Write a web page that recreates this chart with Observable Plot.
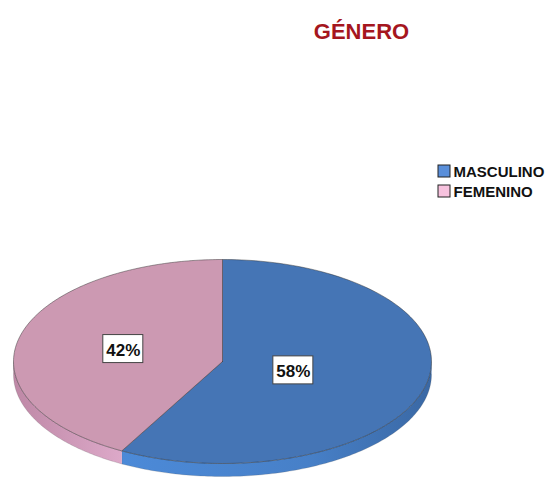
<!DOCTYPE html>
<html><head><meta charset="utf-8">
<script src="https://cdn.jsdelivr.net/npm/d3@7"></script>
<script src="https://cdn.jsdelivr.net/npm/@observablehq/plot@0.6"></script>
<style>html,body{margin:0;padding:0;background:#fff;}</style>
</head><body><div id="chart"></div>
<script>
// ---- data ----
const categories = ["MASCULINO", "FEMENINO"];
const values = [58, 42];
const labels = ["58%", "42%"];
const title = "GÉNERO";

// ---- layout / style ----
const W = 551, H = 478;
const cx = 222, cy = 361, rx = 209, ry = 102, depth = 13;
const topColors = ["#4575B5", "#CC99B2"];
const legendColors = ["#5A8FDA", "#F7C2DE"];
const labelR = [0.35, 0.49];
const legendX = 438, legendY0 = 165, legendStep = 20, legendSize = 12;
const font = "'Liberation Sans', Arial, sans-serif";

const arcs = d3.pie().sort(null)(values);
const P = (a, dy = 0) => [cx + rx * Math.sin(a), cy - ry * Math.cos(a) + dy];

// top faces
const topPts = [];
arcs.forEach((a, i) => {
  topPts.push({i, x: cx, y: cy});
  const n = 160;
  for (let k = 0; k <= n; k++) {
    const [x, y] = P(a.startAngle + (a.endAngle - a.startAngle) * k / n);
    topPts.push({i, x, y});
  }
  topPts.push({i, x: cx, y: cy});
});
// side faces (front half only)
const sidePts = [];
arcs.forEach((a, i) => {
  const s = Math.max(a.startAngle, Math.PI / 2), e = Math.min(a.endAngle, 3 * Math.PI / 2);
  if (s >= e) return;
  const n = 120;
  for (let k = 0; k <= n; k++) { const [x, y] = P(s + (e - s) * k / n); sidePts.push({i, x, y}); }
  for (let k = n; k >= 0; k--) { const [x, y] = P(s + (e - s) * k / n, depth); sidePts.push({i, x, y}); }
});
// labels
const labelData = arcs.map((a, i) => {
  const m = (a.startAngle + a.endAngle) / 2;
  return {label: labels[i], x: cx + rx * labelR[i] * Math.sin(m), y: cy - ry * labelR[i] * Math.cos(m)};
});
const legendData = categories.map((c, i) => ({c, i, y: legendY0 + i * legendStep}));

const defs = () => {
  const d = d3.create("svg:defs");
  const g1 = d.append("linearGradient").attr("id", "sideBlue").attr("gradientUnits", "userSpaceOnUse")
    .attr("x1", 120).attr("x2", cx + rx).attr("y1", 0).attr("y2", 0);
  g1.append("stop").attr("offset", 0).attr("stop-color", "#4C8AD8");
  g1.append("stop").attr("offset", 0.6).attr("stop-color", "#4780C8");
  g1.append("stop").attr("offset", 1).attr("stop-color", "#3A68A4");
  const g2 = d.append("linearGradient").attr("id", "sidePink").attr("gradientUnits", "userSpaceOnUse")
    .attr("x1", cx - rx).attr("x2", 122).attr("y1", 0).attr("y2", 0);
  g2.append("stop").attr("offset", 0).attr("stop-color", "#BE88A6");
  g2.append("stop").attr("offset", 1).attr("stop-color", "#DDA9C9");
  return d.node();
};
const sideFills = ["url(#sideBlue)", "url(#sidePink)"];

const marks = [defs];
[0, 1].forEach(i => {
  marks.push(Plot.line(sidePts.filter(d => d.i === i), {x: "x", y: "y", fill: sideFills[i], stroke: "#555", strokeWidth: 0.4, strokeOpacity: 0.5, curve: "linear"}));
});
[0, 1].forEach(i => {
  marks.push(Plot.line(topPts.filter(d => d.i === i), {x: "x", y: "y", fill: topColors[i], stroke: "#2b2b2b", strokeWidth: 0.6, strokeOpacity: 0.75, curve: "linear"}));
});
marks.push(
  Plot.rect(labelData, {x1: d => d.x - 20, x2: d => d.x + 20, y1: d => d.y - 14, y2: d => d.y + 14, fill: "white", stroke: "#444", strokeWidth: 1}),
  Plot.text(labelData, {x: "x", y: "y", text: "label", fontSize: 17, fontWeight: "bold", fill: "#111", fontFamily: font, dy: 1}),
  Plot.text([title], {x: () => 361, y: () => 31, text: d => d, fontSize: 22, fontWeight: "bold", fill: "#A5161E", fontFamily: font}),
  Plot.rect(legendData, {x1: () => legendX, x2: () => legendX + legendSize, y1: d => d.y, y2: d => d.y + legendSize, fill: d => legendColors[d.i], stroke: "#222", strokeWidth: 1}),
  Plot.text(legendData, {x: () => legendX + legendSize + 3, y: d => d.y + legendSize / 2 + 1, text: "c", textAnchor: "start", fontSize: 15, fontWeight: "bold", fill: "#111", fontFamily: font})
);

const chart = Plot.plot({
  width: W, height: H, margin: 0,
  x: {domain: [0, W], range: [0, W], axis: null},
  y: {domain: [0, H], range: [0, H], axis: null},
  style: {background: "white", overflow: "visible"},
  marks
});
document.getElementById("chart").append(chart);
</script></body></html>
